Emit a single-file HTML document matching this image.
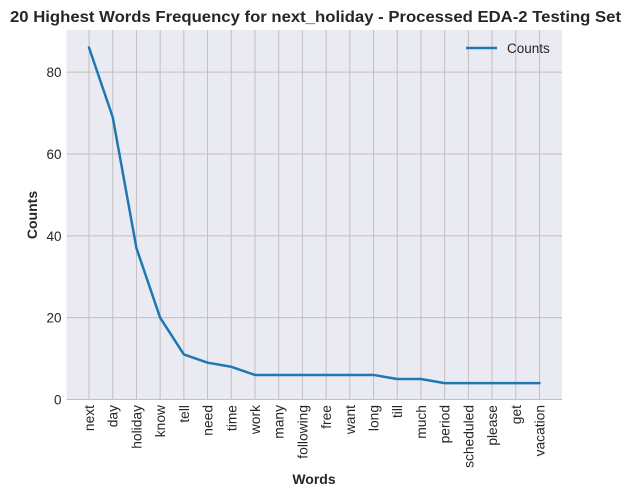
<!DOCTYPE html>
<html><head><meta charset="utf-8"><style>
body{margin:0;background:#fff;font-family:"Liberation Sans",Arial,sans-serif}
svg text{font-family:"Liberation Sans",Arial,sans-serif}
</style></head><body>
<svg id="c" width="628" height="497" viewBox="0 0 628 497"></svg>
<script>
const categories=["next","day","holiday","know","tell","need","time","work","many","following","free","want","long","till","much","period","scheduled","please","get","vacation"];
const counts=[86,69,37,20,11,9,8,6,6,6,6,6,6,5,5,4,4,4,4,4];
const yTicks=[0,20,40,60,80];
const NS="http://www.w3.org/2000/svg";
const svg=document.getElementById('c');
const L=66.5,R=562,T=30,B=399.5;
const xmin=-0.95,xmax=categories.length-0.05,ymax=90.3;
const X=i=>L+(i-xmin)/(xmax-xmin)*(R-L);
const Y=v=>B-v/ymax*(B-T);
function mk(t,a,txt){const e=document.createElementNS(NS,t);for(const k in a)e.setAttribute(k,a[k]);if(txt!=null)e.textContent=txt;svg.appendChild(e);return e;}
let bg=mk('rect',{x:L,y:T,width:R-L,height:B-T,fill:'#eaeaf2'});


categories.forEach((c,i)=>{
 let g=mk('line',{x1:X(i),x2:X(i),y1:T,y2:B,stroke:'#c0c0c0','stroke-width':1});
 
 
 let x=X(i)+5,y=405;
 let t=mk('text',{x:x,y:y,transform:`rotate(-90 ${x} ${y})`,'text-anchor':'end','font-size':13.8,fill:'#262626'},c);
 
 
});
yTicks.forEach(v=>{
 let g=mk('line',{x1:L,x2:R,y1:Y(v),y2:Y(v),stroke:'#c0c0c0','stroke-width':1});
 
 
 let t=mk('text',{x:L-5,y:Y(v)+5,'text-anchor':'end','font-size':13.5,fill:'#262626'},String(v));
 
 
});
let pts=counts.map((v,i)=>X(i)+','+Y(v)).join(' ');
let line=mk('polyline',{points:pts,fill:'none',stroke:'#1f77b4','stroke-width':2.5,'stroke-linejoin':'round','stroke-linecap':'round'});


let tt=mk('text',{x:10,y:22,'font-size':16,'font-weight':'bold',fill:'#262626',textLength:611,lengthAdjust:'spacingAndGlyphs'},'20 Highest Words Frequency for next_holiday - Processed EDA-2 Testing Set');


let xt=mk('text',{x:314,y:484,'text-anchor':'middle','font-size':14,'font-weight':'bold',fill:'#262626'},'Words');


let yt=mk('text',{x:37,y:215,transform:'rotate(-90 37 215)','text-anchor':'middle','font-size':14,'font-weight':'bold',fill:'#262626'},'Counts');


let ll=mk('line',{x1:466,x2:497,y1:48,y2:48,stroke:'#1f77b4','stroke-width':2.5});


let lt=mk('text',{x:507,y:53,'font-size':13.5,fill:'#262626'},'Counts');


</script>
</body></html>
